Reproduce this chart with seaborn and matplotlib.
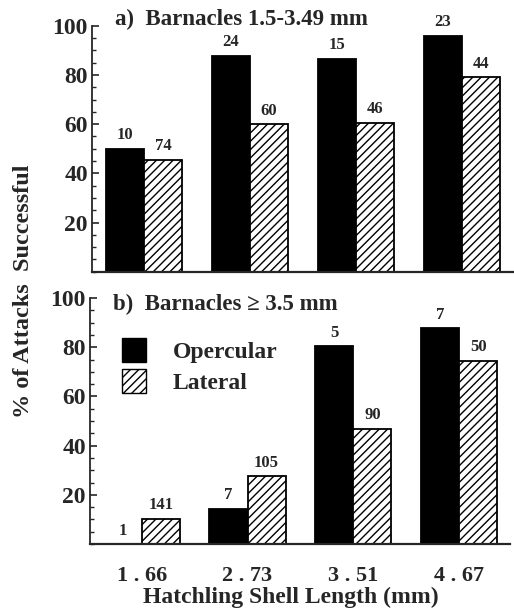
import pandas as pd
import seaborn as sns
from matplotlib import pyplot as plt
from matplotlib.patches import Patch
from matplotlib.ticker import MultipleLocator

sizes = ["1.66", "2.73", "3.51", "4.67"]
groups = ["Opercular", "Lateral"]

# panel a) barnacles 1.5-3.49 mm
a_oper = [50, 87.7, 86.6, 96]
a_lat = [45.4, 60, 60.5, 79]
a_n_oper = ["10", "24", "15", "23"]
a_n_lat = ["74", "60", "46", "44"]

# panel b) barnacles >= 3.5 mm
b_oper = [0, 14.4, 80.4, 87.8]
b_lat = [10.3, 27.5, 46.8, 74.6]
b_n_oper = ["1", "7", "5", "7"]
b_n_lat = ["141", "105", "90", "50"]

sns.set_style("ticks")
plt.rcParams['font.family'] = ['Liberation Serif', 'DejaVu Serif']
plt.rcParams['font.weight'] = 'bold'
plt.rcParams['hatch.linewidth'] = 1.0

fig = plt.figure(figsize=(5.14, 6.12), dpi=100)
ax1 = fig.add_axes([0.179, 0.556, 0.819, 0.402])
ax2 = fig.add_axes([0.175, 0.111, 0.817, 0.402])


def panel(ax, oper, lat, n_oper, n_lat, title, ty):
    df = pd.DataFrame({
        "size": sizes * 2,
        "pct": oper + lat,
        "type": [groups[0]] * 4 + [groups[1]] * 4,
    })
    sns.barplot(data=df, x="size", y="pct", hue="type", order=sizes,
                hue_order=groups, palette=["black", "white"], width=0.72,
                edgecolor="black", linewidth=1.3, saturation=1, legend=False, ax=ax)
    for bar in ax.containers[1]:
        bar.set_hatch("////")
        bar.set_facecolor("white")
    ax.bar_label(ax.containers[0], labels=n_oper, padding=4, fontsize=12,
                 fontweight="bold")
    ax.bar_label(ax.containers[1], labels=n_lat, padding=4, fontsize=12,
                 fontweight="bold")
    ax.set_ylim(0, 100)
    ax.set_xlim(-0.49, 3.48)
    ax.yaxis.set_major_locator(MultipleLocator(20))
    ax.yaxis.set_minor_locator(MultipleLocator(5))
    ax.set_yticks([20, 40, 60, 80, 100])
    ax.tick_params(axis="y", direction="in", length=5, width=1.2, labelsize=17, pad=3)
    ax.tick_params(axis="y", which="minor", direction="in", length=3, width=1)
    ax.tick_params(axis="x", length=0, labelsize=16, pad=16)
    for lab in ax.get_yticklabels() + ax.get_xticklabels():
        lab.set_fontweight("bold")
    sns.despine(ax=ax)
    ax.spines["left"].set_linewidth(1.3)
    ax.spines["bottom"].set_linewidth(1.6)
    ax.set_xlabel("")
    ax.set_ylabel("")
    ax.text(0.055, ty, title, transform=ax.transAxes, fontsize=16.5,
            fontweight="bold", va="center", ha="left")


panel(ax1, a_oper, a_lat, a_n_oper, a_n_lat, "a)  Barnacles 1.5-3.49 mm", 1.024)
panel(ax2, b_oper, b_lat, b_n_oper, b_n_lat, "b)  Barnacles \u2265 3.5 mm", 0.972)

ax1.set_xticklabels([])
ax2.set_xticklabels(["1 . 66", "2 . 73", "3 . 51", "4 . 67"])
ax2.set_xlabel("Hatchling Shell Length (mm)", fontsize=17, fontweight="bold",
               labelpad=4)
ax2.xaxis.set_label_coords(0.478, -0.175)

handles = [Patch(facecolor="black", edgecolor="black"),
           Patch(facecolor="white", edgecolor="black", hatch="////")]
ax2.legend(handles, groups, loc="upper left", bbox_to_anchor=(0.054, 0.875),
           frameon=False, fontsize=17, handlelength=1.0, handleheight=1.2,
           handletextpad=1.15, labelspacing=0.25, borderaxespad=0)

fig.text(0.045, 1 - 291 / 612, "% of Attacks  Successful", rotation=90,
         fontsize=17.5, fontweight="bold", ha="center", va="center")

plt.savefig("out.png", dpi=100)
